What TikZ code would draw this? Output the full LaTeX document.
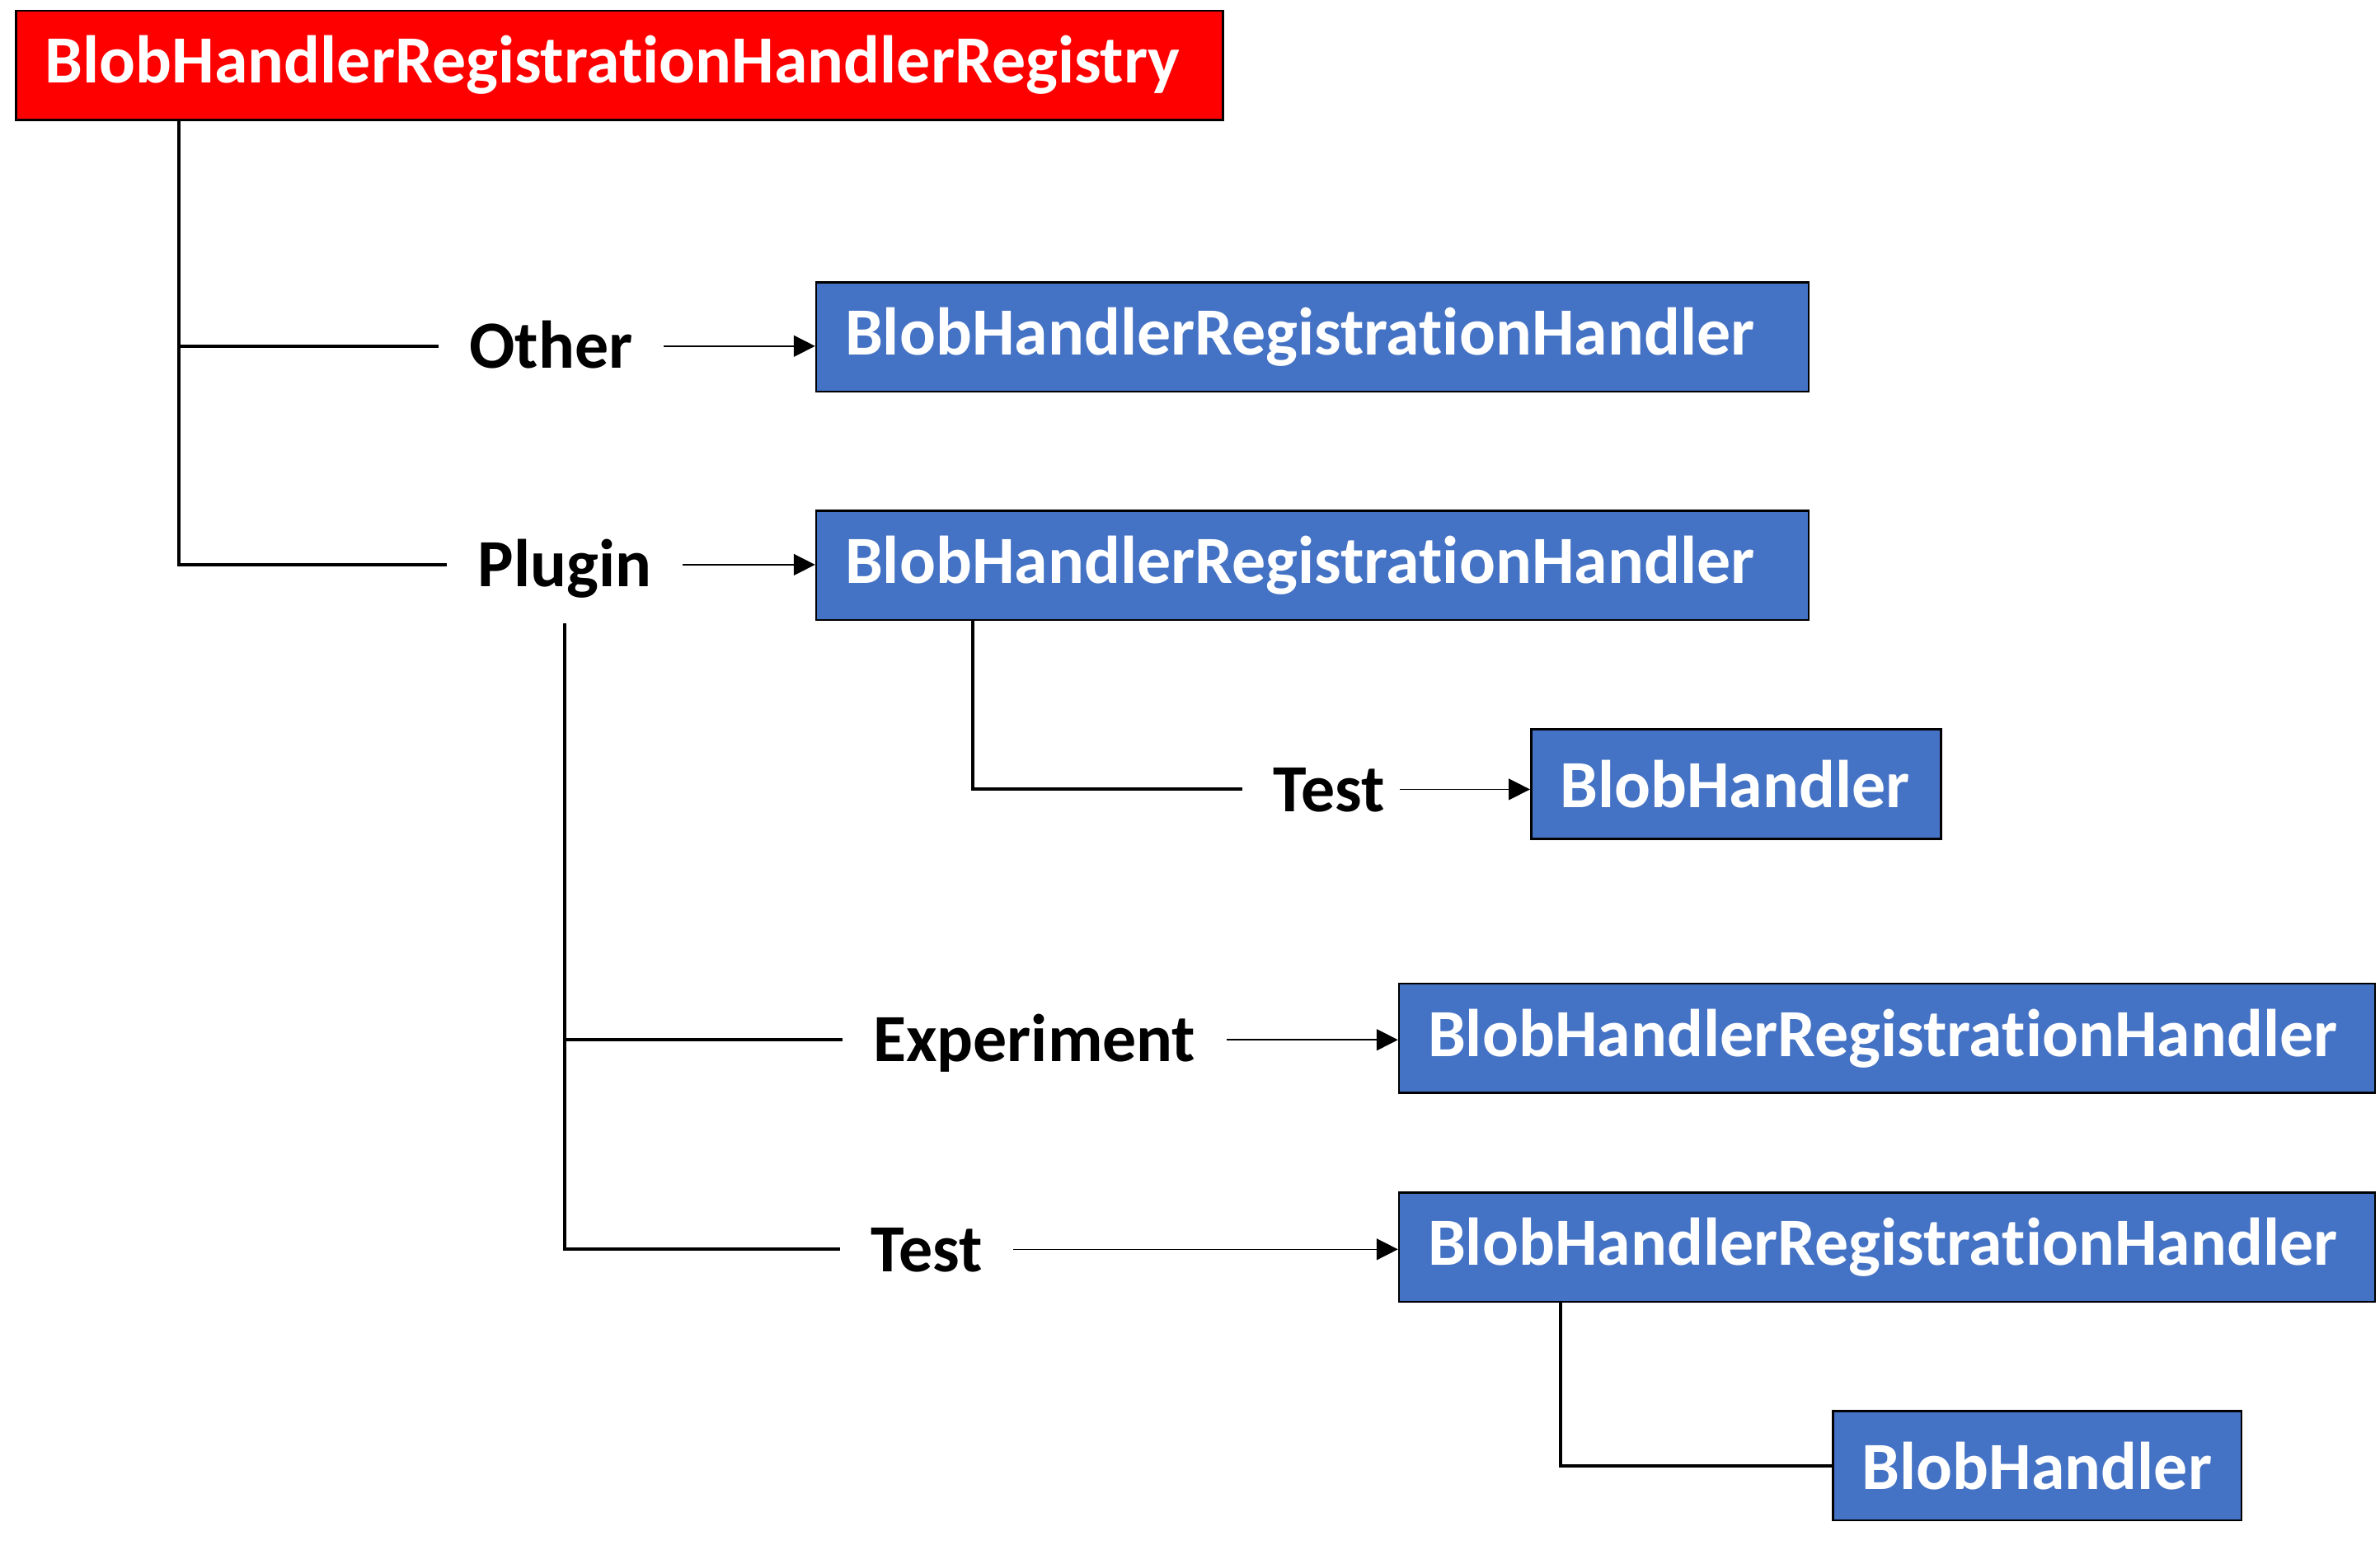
\documentclass[tikz,border=0pt]{standalone}
\usepackage{fontspec}
\setmainfont{Carlito}[RawFeature={-liga;-clig;-dlig;-calt;-rlig}]
\usepackage{tikz}
\usetikzlibrary{positioning}
\usetikzlibrary{calc,arrows.meta}
\definecolor{reg-red}{HTML}{FF0000}
\definecolor{hdl-blue}{HTML}{4472C4}

\begin{document}
\begin{tikzpicture}[
    font=\fontsize{25.3}{30}\selectfont\bfseries,
    >={Triangle[length=8pt,width=8pt]}
  ]

  \tikzset{
    box/.style={draw=black, line width=0.8pt, text=white, align=left, anchor=west,
      inner xsep=0.38cm, minimum height=1.44cm},
    regbox/.style={box, fill=reg-red},
    hdlbox/.style={box, fill=hdl-blue},
    key/.style={text=black, inner xsep=0.4cm, inner ysep=0.47cm, text height=0.58cm, text depth=0pt},
    tree/.style={line width=1.2pt},
    arr/.style={->, line width=0.5pt}
  }

  \useasboundingbox (0,0) rectangle (31.36,-20.42);

  % Boxes
  \node (reg)  [regbox, text width=15.14cm] at (0.2,-0.86) {BlobHandlerRegistrationHandlerRegistry};
  \node (hdlA) [hdlbox, text width=12.32cm] at (10.74,-4.44) {BlobHandlerRegistrationHandler};
  \node (hdlB) [hdlbox, text width=12.32cm] at (10.74,-7.45) {BlobHandlerRegistrationHandler};
  \node (bhA)  [hdlbox, text width=4.64cm] at (20.16,-10.33) {BlobHandler};
  \node (hdlC) [hdlbox, text width=12.10cm] at (18.42,-13.68) {BlobHandlerRegistrationHandler};
  \node (hdlD) [hdlbox, text width=12.10cm] at (18.42,-16.43) {BlobHandlerRegistrationHandler};
  \node (bhB)  [hdlbox, text width=4.62cm] at (24.14,-19.31) {BlobHandler};

  % Keys
  \node (other)  [key] at (7.26,-4.56) {Other};
  \node (plugin) [key] at (7.44,-7.44) {Plugin};
  \node (testA)  [key] at (17.51,-10.40) {Test};
  \node (exper)  [key] at (13.63,-13.70) {Experiment};
  \node (testB)  [key] at (12.21,-16.46) {Test};

  % Tree lines
  \coordinate (trunk) at ([xshift=2.16cm]reg.south west);
  \draw[tree] (trunk) |- (plugin.west);
  \draw[tree] (other.west -| trunk) -- (other.west);
  \draw[tree] (plugin.south) |- (testB.west);
  \draw[tree] (exper.west -| plugin.south) -- (exper.west);
  \draw[tree] ([xshift=2.08cm]hdlB.south west) |- (testA.west);
  \draw[tree] ([xshift=2.14cm]hdlD.south west) |- (bhB.west);

  % Arrows
  \draw[arr] (other.east) -- (other.east -| hdlA.west);
  \draw[arr] (plugin.east) -- (plugin.east -| hdlB.west);
  \draw[arr] ([xshift=-0.2cm]testA.east) -- (testA.east -| bhA.west);
  \draw[arr] (exper.east) -- (exper.east -| hdlC.west);
  \draw[arr] (testB.east) -- (testB.east -| hdlD.west);

\end{tikzpicture}
\end{document}
